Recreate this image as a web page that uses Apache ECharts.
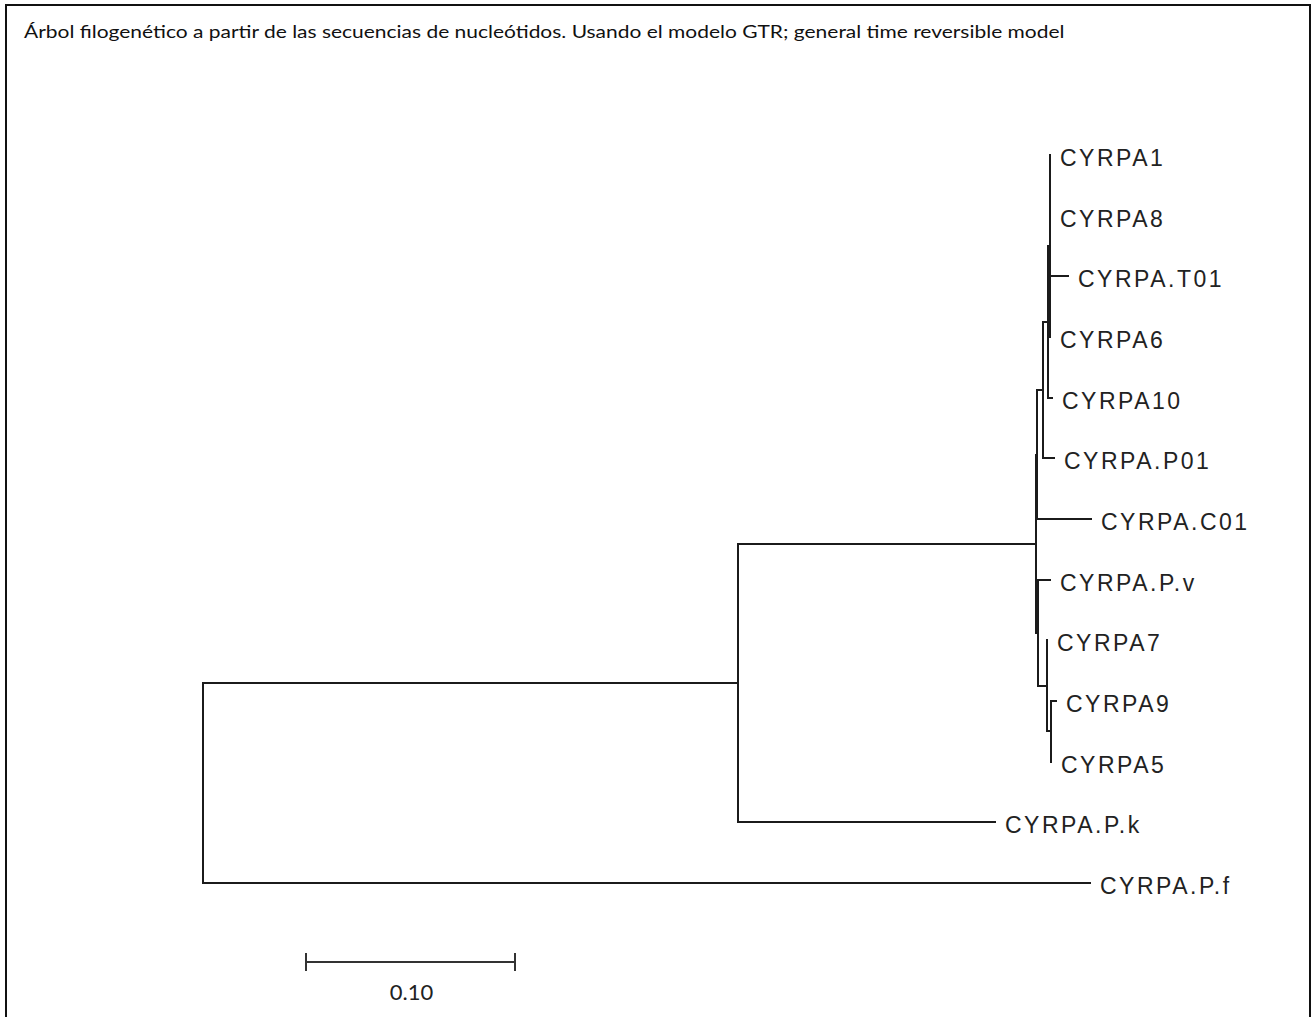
<!DOCTYPE html>
<html>
<head>
<meta charset="utf-8">
<script src="https://cdn.jsdelivr.net/npm/echarts@6/dist/echarts.min.js"></script>
<style>
html,body{margin:0;padding:0;background:#fff;}
#chart{width:1313px;height:1017px;}
#chart svg text[style*="Liberation"], #chart svg text[font-family*="Liberation"]{letter-spacing:2.5px;}
</style>
</head>
<body>
<div id="chart"></div>
<script>
// ---- Data ----
const titleText = 'Árbol filogenético a partir de las secuencias de nucleótidos. Usando el modelo GTR; general time reversible model';

// Terminal taxa in display order (top to bottom)
const taxa = ['CYRPA1','CYRPA8','CYRPA.T01','CYRPA6','CYRPA10','CYRPA.P01','CYRPA.C01','CYRPA.P.v','CYRPA7','CYRPA9','CYRPA5','CYRPA.P.k','CYRPA.P.f'];
const taxaParent = ['A','A','A','A','C','B','D','K','L','M','M','N1','root'];
const taxaBranch = [0, 0, 0.0083, 0, 0.0019, 0.005, 0.0258, 0.0057, 0, 0.0024, 0, 0.1229, 0.4244];

// Internal clades
const clades = ['N1','N2','D','B','C','A','K','L','M'];
const cladeParent = ['root','N1','N2','D','B','C','N2','K','L'];
const cladeBranch = [0.256, 0.1426, 0.0005, 0.0029, 0.0024, 0.001, 0.001, 0.0043, 0.0019];

// Scale bar
const scaleBarLength = 0.10;
const scaleBarLabel = '0.10';

// ---- Tree layout (distance from root, leaf order) ----
const nodes = {root: {name:'root', parent:null, len:0, children:[], leaf:false}};
clades.forEach((c,i)=>{ nodes[c] = {name:c, parent:cladeParent[i], len:cladeBranch[i], children:[], leaf:false}; });
taxa.forEach((t,i)=>{ nodes[t] = {name:t, parent:taxaParent[i], len:taxaBranch[i], children:[], leaf:true, order:i}; });
clades.forEach(c=>nodes[nodes[c].parent].children.push(c));
taxa.forEach(t=>nodes[nodes[t].parent].children.push(t));

function layout(n, x){
  const node = nodes[n];
  node.x = x;
  if(node.leaf){ node.y = node.order; return; }
  node.children.forEach(c=>layout(c, x + nodes[c].len));
  const ys = node.children.map(c=>nodes[c].y);
  node.y1 = Math.min(...ys); node.y2 = Math.max(...ys);
  node.y = (node.y1 + node.y2)/2;
}
layout('root', 0);

const nodeList = Object.keys(nodes);
const treeData = nodeList.map(k=>{
  const n = nodes[k];
  const px = n.parent ? nodes[n.parent].x : n.x;
  return {name:k, value:[n.x, n.y, px, n.leaf ? n.y : n.y1, n.leaf ? n.y : n.y2, n.leaf ? 1 : 0]};
});

const LINE = '#1b1b1b';

function renderTree(params, api){
  const x = api.value(0), y = api.value(1), px = api.value(2);
  const y1 = api.value(3), y2 = api.value(4), isLeaf = api.value(5);
  const name = treeData[params.dataIndex].name;
  const r = p => [Math.round(p[0]), Math.round(p[1])];
  const P = r(api.coord([x, y]));
  const PP = r(api.coord([px, y]));
  const children = [];
  if(name !== 'root'){
    children.push({type:'line', shape:{x1:PP[0], y1:PP[1], x2:P[0], y2:P[1]},
      style:{stroke:LINE, lineWidth:2, lineCap:'square'}});
  }
  if(!isLeaf){
    const A = r(api.coord([x, y1])), B = r(api.coord([x, y2]));
    children.push({type:'line', shape:{x1:A[0], y1:A[1], x2:B[0], y2:B[1]},
      style:{stroke:LINE, lineWidth:2, lineCap:'square'}});
  } else {
    children.push({type:'text', x:P[0] + 10, y:P[1] + 3,
      style:{text:name, x:0, y:0, fill:'#222', fontFamily:'"Liberation Sans", Arial, sans-serif', fontSize:23,
        align:'left', verticalAlign:'middle'}});
  }
  return {type:'group', children};
}

const scaleData = [[0.0493, 13.3, scaleBarLength]];
function renderScale(params, api){
  const x0 = api.value(0), yv = api.value(1), len = api.value(2);
  const A = api.coord([x0, yv]), B = api.coord([x0 + len, yv]);
  const ax = Math.round(A[0]), bx = Math.round(B[0]), yy = Math.round(A[1]);
  return {type:'group', children:[
    {type:'line', shape:{x1:ax, y1:yy, x2:bx, y2:yy}, style:{stroke:'#333', lineWidth:2}},
    {type:'line', shape:{x1:ax, y1:yy-9, x2:ax, y2:yy+9}, style:{stroke:'#333', lineWidth:2}},
    {type:'line', shape:{x1:bx, y1:yy-9, x2:bx, y2:yy+9}, style:{stroke:'#333', lineWidth:2}},
    {type:'text', x:(ax+bx)/2 + 1, y:yy+29, style:{text:scaleBarLabel, x:0, y:0, fill:'#222',
      fontFamily:'Lato, "Open Sans", sans-serif', fontSize:22, align:'center', verticalAlign:'middle'}}
  ]};
}

const chart = echarts.init(document.getElementById('chart'), null, {renderer:'svg'});
chart.setOption({
  animation:false,
  backgroundColor:'#fff',
  grid:{left:203, right:65, top:155, bottom:134},
  xAxis:{type:'value', min:0, max:0.5, show:false},
  yAxis:{type:'value', min:0, max:12, inverse:true, show:false},
  graphic:[
    {type:'rect', shape:{x:6, y:5, width:1304, height:1030},
      style:{fill:'none', stroke:'#111', lineWidth:2}, silent:true},
    {type:'text', x:24, y:31, scaleX:1.165, silent:true,
      style:{text:titleText, fill:'#111', fontFamily:'Lato, "Open Sans", sans-serif', fontSize:18,
        align:'left', verticalAlign:'middle'}}
  ],
  series:[
    {type:'custom', name:'tree', renderItem:renderTree, data:treeData, clip:false, silent:true},
    {type:'custom', name:'scale', renderItem:renderScale, data:scaleData, clip:false, silent:true}
  ]
});
</script>
</body>
</html>
